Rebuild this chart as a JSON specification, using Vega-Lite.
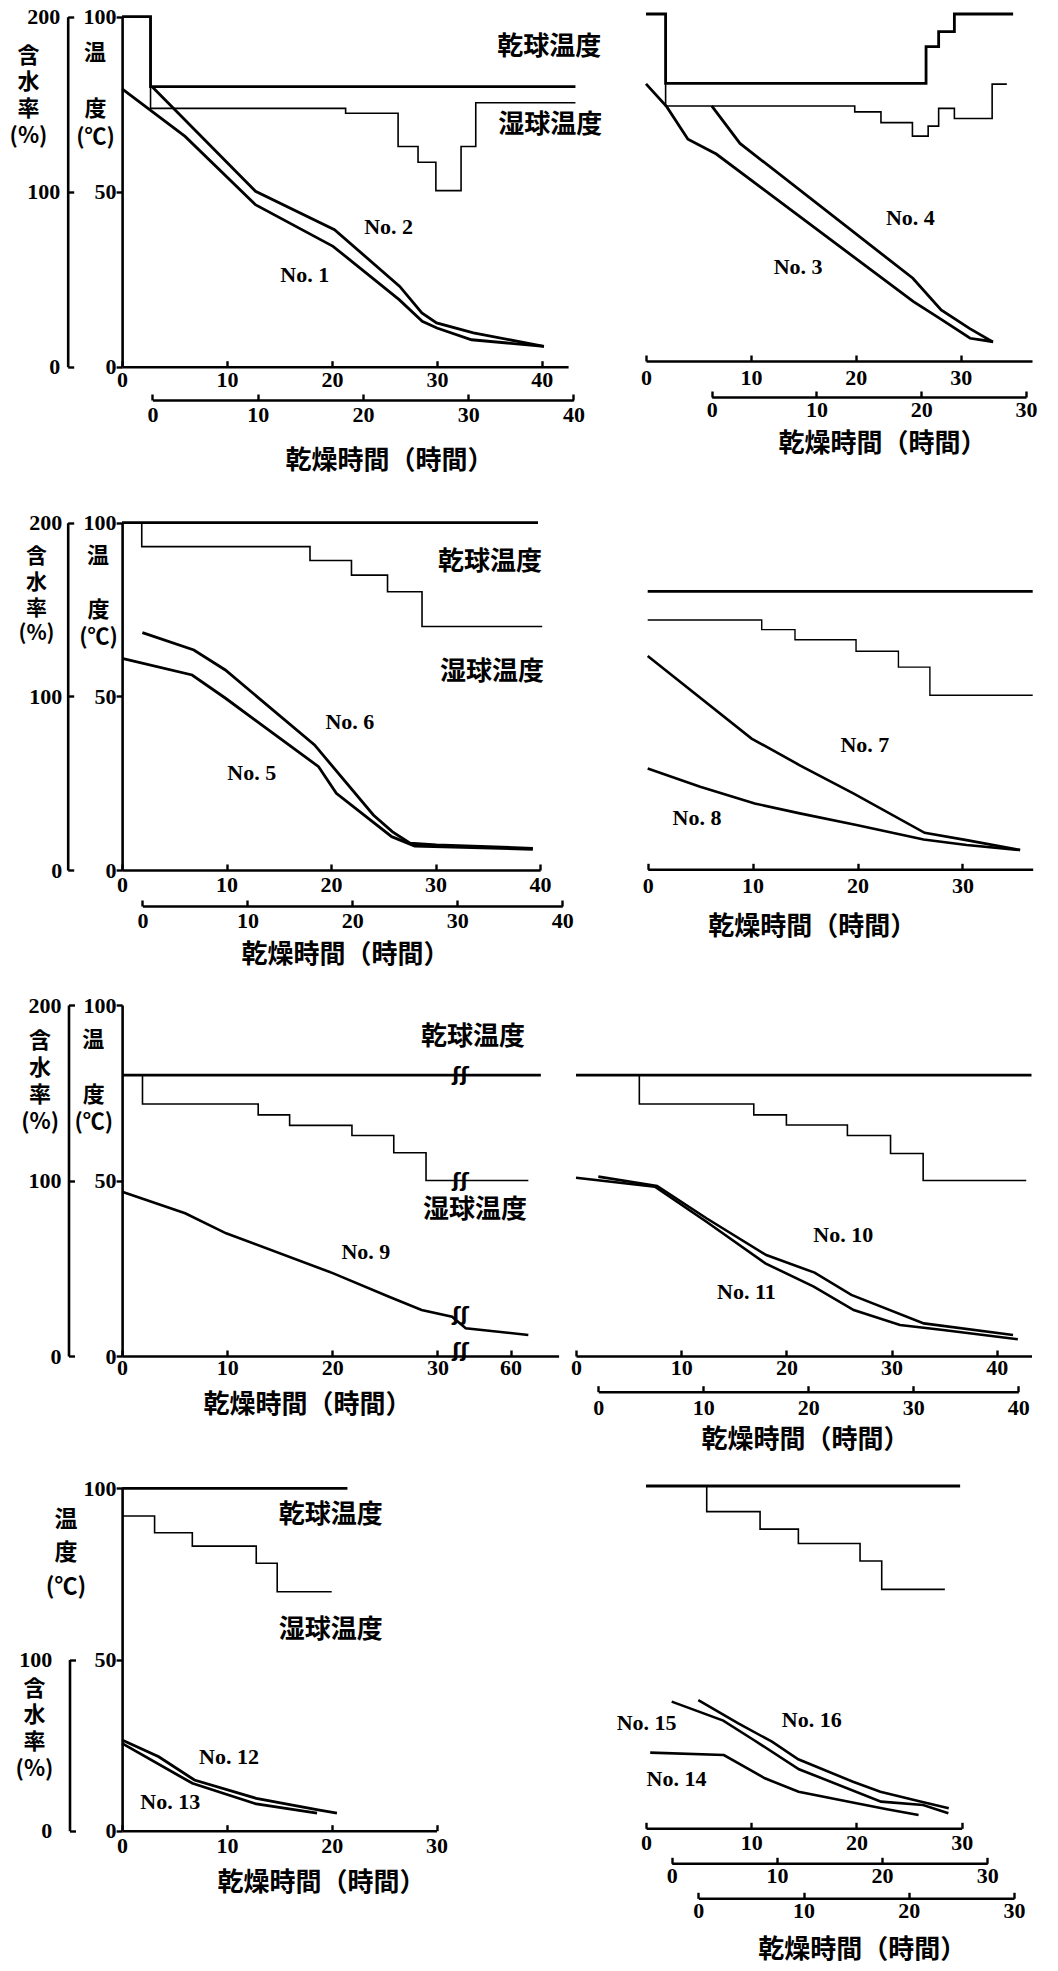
{
"$schema":"https://vega.github.io/schema/vega-lite/v6.json",
"width":1058,"height":1971,"autosize":{"type":"none"},"padding":0,"background":"white",
"config":{"view":{"stroke":null},
"axis":{"domainColor":"#000","domainWidth":2.6,"tickColor":"#000","tickWidth":2.4,"labelColor":"#000","labelFont":"Liberation Serif","labelFontSize":22,"labelFontWeight":"bold","labelFlush":false,"labelOverlap":false,"grid":false,"titleColor":"#000","titleFont":"Noto Sans CJK JP","titleFontSize":26,"titleFontWeight":"bold","titleAlign":"center","titleBaseline":"middle","titleAngle":0,"format":"d"}},
"resolve":{"scale":{"x":"independent","y":"independent"},"axis":{"x":"independent","y":"independent"}},
"layer":[
{"data":{"values":[{"t":0,"T":100},{"t":2.71,"T":73.8},{"t":21.3,"T":72.4},{"t":26.3,"T":62.9},{"t":28.2,"T":58.4},{"t":29.9,"T":50.3},{"t":32.3,"T":62.9},{"t":33.7,"T":75.4},{"t":43.2,"T":75.4}]},
"mark":{"type":"line","interpolate":"step-after","strokeWidth":1.6,"color":"#000"},
"encoding":{"x":{"field":"t","type":"quantitative","scale":{"domain":[0,42.5],"range":[122.1,568.1],"nice":false},"axis":{"orient":"bottom","offset":-1604.3,"values":[0,10,20,30,40],"tickSize":-6,"labelPadding":8.5,"title":null}},
"y":{"field":"T","type":"quantitative","scale":{"domain":[0,100],"range":[366.7,16.7],"nice":false},"axis":{"orient":"left","offset":-122.1,"values":[0,50,100],"tickSize":6,"labelPadding":0,"title":["度","(℃)"],"titleX":-27.1,"titleY":108.6,"titleLineHeight":27.8,"titleAngle":0,"titleAlign":"center","titleBaseline":"middle","titleFontSize":22}}}},
{"data":{"values":[{"t":-2.58,"T":89.6,"label":"温"}]},
"mark":{"type":"text","font":"Noto Sans CJK JP","fontSize":22,"fontWeight":"bold","align":"center","baseline":"middle","color":"#000"},
"encoding":{"x":{"field":"t","type":"quantitative","scale":{"domain":[0,42.5],"range":[122.1,568.1],"nice":false},"axis":null},
"y":{"field":"T","type":"quantitative","scale":{"domain":[0,100],"range":[366.7,16.7],"nice":false},"axis":null},"text":{"field":"label"}}},
{"data":{"values":[{"t":0,"T":100},{"t":2.71,"T":80},{"t":43.2,"T":80}]},
"mark":{"type":"line","interpolate":"step-after","strokeWidth":2.8,"color":"#000"},
"encoding":{"x":{"field":"t","type":"quantitative","scale":{"domain":[0,42.5],"range":[122.1,568.1],"nice":false},"axis":null},
"y":{"field":"T","type":"quantitative","scale":{"domain":[0,100],"range":[366.7,16.7],"nice":false},"axis":null}}},
{"data":{"values":[{"t":0,"M":158.7},{"t":6.0,"M":131.6},{"t":12.7,"M":92.6},{"t":20.1,"M":68.8},{"t":26.4,"M":38.3},{"t":28.6,"M":25.9},{"t":30.0,"M":22.1},{"t":33.3,"M":15.4},{"t":40.2,"M":11.6}]},
"mark":{"type":"line","strokeWidth":2.8,"color":"#000"},
"encoding":{"x":{"field":"t","type":"quantitative","scale":{"domain":[0,42.5],"range":[122.1,568.1],"nice":false},"axis":null},
"y":{"field":"M","type":"quantitative","scale":{"domain":[0,200],"range":[366.7,16.7],"nice":false},"axis":{"orient":"left","offset":-67.7,"values":[0,100,200],"tickSize":-6,"labelPadding":14,"title":["含","水","率","(%)"],"titleX":-39.7,"titleY":55,"titleLineHeight":26.7,"titleAngle":0,"titleAlign":"center","titleBaseline":"middle","titleFontSize":22}}}},
{"data":{"values":[{"t":0,"M":159.8},{"t":9.8,"M":100.2},{"t":17.3,"M":78.3},{"t":23.5,"M":45.9},{"t":25.6,"M":30.7},{"t":27.0,"M":25.0},{"t":30.5,"M":19.3},{"t":37.2,"M":11.6}]},
"mark":{"type":"line","strokeWidth":2.8,"color":"#000"},
"encoding":{"x":{"field":"t","type":"quantitative","scale":{"domain":[0,40],"range":[152.4,573.4],"nice":false},"axis":{"orient":"bottom","offset":-1571,"values":[0,10,20,30,40],"tickSize":-6,"labelPadding":10,"title":"乾燥時間（時間）","titleX":389,"titleY":60.7,"titleAngle":0,"titleAlign":"center","titleBaseline":"middle"}},
"y":{"field":"M","type":"quantitative","scale":{"domain":[0,200],"range":[366.7,16.7],"nice":false},"axis":null}}},
{"data":{"values":[{"t":40.7,"T":91.4,"label":"乾球温度"},{"t":40.8,"T":69.0,"label":"湿球温度"}]},
"mark":{"type":"text","font":"Noto Sans CJK JP","fontSize":26,"fontWeight":"bold","align":"center","baseline":"middle","color":"#000"},
"encoding":{"x":{"field":"t","type":"quantitative","scale":{"domain":[0,42.5],"range":[122.1,568.1],"nice":false},"axis":null},
"y":{"field":"T","type":"quantitative","scale":{"domain":[0,100],"range":[366.7,16.7],"nice":false},"axis":null},"text":{"field":"label"}}},
{"data":{"values":[{"t":25.4,"T":39.9,"label":"No. 2"},{"t":17.4,"T":26.2,"label":"No. 1"}]},
"mark":{"type":"text","font":"Liberation Serif","fontSize":22,"fontWeight":"bold","align":"center","baseline":"middle","color":"#000"},
"encoding":{"x":{"field":"t","type":"quantitative","scale":{"domain":[0,42.5],"range":[122.1,568.1],"nice":false},"axis":null},
"y":{"field":"T","type":"quantitative","scale":{"domain":[0,100],"range":[366.7,16.7],"nice":false},"axis":null},"text":{"field":"label"}}},

{"data":{"values":[{"t":0,"T":100},{"t":1.87,"T":73.5},{"t":19.9,"T":71.8},{"t":22.4,"T":68.7},{"t":25.4,"T":64.8},{"t":26.9,"T":67.7},{"t":27.9,"T":72.8},{"t":29.4,"T":69.9},{"t":33.0,"T":79.8},{"t":34.4,"T":79.8}]},
"mark":{"type":"line","interpolate":"step-after","strokeWidth":1.6,"color":"#000"},
"encoding":{"x":{"field":"t","type":"quantitative","scale":{"domain":[0,36.8],"range":[646,1032],"nice":false},"axis":{"orient":"bottom","offset":-1610,"values":[0,10,20,30],"tickSize":-6,"labelPadding":12.4,"title":null}},
"y":{"field":"T","type":"quantitative","scale":{"domain":[0,100],"range":[361,14],"nice":false},"axis":null}}},
{"data":{"values":[{"t":0,"T":100},{"t":1.87,"T":80},{"t":26.7,"T":90.6},{"t":27.9,"T":94.9},{"t":29.4,"T":100},{"t":35.0,"T":100}]},
"mark":{"type":"line","interpolate":"step-after","strokeWidth":2.8,"color":"#000"},
"encoding":{"x":{"field":"t","type":"quantitative","scale":{"domain":[0,36.8],"range":[646,1032],"nice":false},"axis":null},
"y":{"field":"T","type":"quantitative","scale":{"domain":[0,100],"range":[361,14],"nice":false},"axis":null}}},
{"data":{"values":[{"t":0,"M":159.7},{"t":1.97,"M":146.6},{"t":4.0,"M":127.8},{"t":6.7,"M":119.3},{"t":25.5,"M":34.2},{"t":28.0,"M":24.6},{"t":30.9,"M":13.1},{"t":33.1,"M":11.1}]},
"mark":{"type":"line","strokeWidth":2.8,"color":"#000"},
"encoding":{"x":{"field":"t","type":"quantitative","scale":{"domain":[0,36.8],"range":[646,1032],"nice":false},"axis":null},
"y":{"field":"M","type":"quantitative","scale":{"domain":[0,200],"range":[361,14],"nice":false},"axis":null}}},
{"data":{"values":[{"t":0,"M":147.0},{"t":2.7,"M":125.4},{"t":19.2,"M":47.7},{"t":21.9,"M":29.4},{"t":24.6,"M":18.8},{"t":26.8,"M":11.1}]},
"mark":{"type":"line","strokeWidth":2.8,"color":"#000"},
"encoding":{"x":{"field":"t","type":"quantitative","scale":{"domain":[0,30],"range":[711.7,1026],"nice":false},"axis":{"orient":"bottom","offset":-1574,"values":[0,10,20,30],"tickSize":-6,"labelPadding":8.4,"title":"乾燥時間（時間）","titleX":882,"titleY":46,"titleAngle":0,"titleAlign":"center","titleBaseline":"middle"}},
"y":{"field":"M","type":"quantitative","scale":{"domain":[0,200],"range":[361,14],"nice":false},"axis":null}}},
{"data":{"values":[{"t":25.2,"T":41.1,"label":"No. 4"},{"t":14.5,"T":27.2,"label":"No. 3"}]},
"mark":{"type":"text","font":"Liberation Serif","fontSize":22,"fontWeight":"bold","align":"center","baseline":"middle","color":"#000"},
"encoding":{"x":{"field":"t","type":"quantitative","scale":{"domain":[0,36.8],"range":[646,1032],"nice":false},"axis":null},
"y":{"field":"T","type":"quantitative","scale":{"domain":[0,100],"range":[361,14],"nice":false},"axis":null},"text":{"field":"label"}}},

{"data":{"values":[{"t":0,"T":100},{"t":1.88,"T":93.1},{"t":17.98,"T":89.1},{"t":21.95,"T":84.9},{"t":25.4,"T":80.1},{"t":28.7,"T":70.1},{"t":40.2,"T":70.1}]},
"mark":{"type":"line","interpolate":"step-after","strokeWidth":1.6,"color":"#000"},
"encoding":{"x":{"field":"t","type":"quantitative","scale":{"domain":[0,40],"range":[122.1,540.1],"nice":false},"axis":{"orient":"bottom","offset":-1101,"values":[0,10,20,30,40],"tickSize":-6,"labelPadding":10,"title":null}},
"y":{"field":"T","type":"quantitative","scale":{"domain":[0,100],"range":[870,522.7],"nice":false},"axis":{"orient":"left","offset":-122.1,"values":[0,50,100],"tickSize":6,"labelPadding":0,"title":["度","(℃)"],"titleX":-24,"titleY":609.7,"titleLineHeight":27,"titleAngle":0,"titleAlign":"center","titleBaseline":"middle","titleFontSize":22}}}},
{"data":{"values":[{"t":-2.31,"T":90.5,"label":"温"}]},
"mark":{"type":"text","font":"Noto Sans CJK JP","fontSize":22,"fontWeight":"bold","align":"center","baseline":"middle","color":"#000"},
"encoding":{"x":{"field":"t","type":"quantitative","scale":{"domain":[0,40],"range":[122.1,540.1],"nice":false},"axis":null},
"y":{"field":"T","type":"quantitative","scale":{"domain":[0,100],"range":[870,522.7],"nice":false},"axis":null},"text":{"field":"label"}}},
{"data":{"values":[{"t":0,"T":100},{"t":39.8,"T":100}]},
"mark":{"type":"line","interpolate":"step-after","strokeWidth":2.8,"color":"#000"},
"encoding":{"x":{"field":"t","type":"quantitative","scale":{"domain":[0,40],"range":[122.1,540.1],"nice":false},"axis":null},
"y":{"field":"T","type":"quantitative","scale":{"domain":[0,100],"range":[870,522.7],"nice":false},"axis":null}}},
{"data":{"values":[{"t":0,"M":121.9},{"t":6.7,"M":112.3},{"t":9.9,"M":98.9},{"t":18.8,"M":59.5},{"t":20.5,"M":44.2},{"t":25.8,"M":19.2},{"t":28.0,"M":13.8},{"t":39.3,"M":11.9}]},
"mark":{"type":"line","strokeWidth":2.8,"color":"#000"},
"encoding":{"x":{"field":"t","type":"quantitative","scale":{"domain":[0,40],"range":[122.1,540.1],"nice":false},"axis":null},
"y":{"field":"M","type":"quantitative","scale":{"domain":[0,200],"range":[870,522.7],"nice":false},"axis":{"orient":"left","offset":-67.7,"values":[0,100,200],"tickSize":-6,"labelPadding":12,"title":["含","水","率","(%)"],"titleX":-31.7,"titleY":556.7,"titleLineHeight":25.7,"titleAngle":0,"titleAlign":"center","titleBaseline":"middle","titleFontSize":21}}}},
{"data":{"values":[{"t":0,"M":136.7},{"t":4.9,"M":126.7},{"t":7.9,"M":115.2},{"t":16.4,"M":72.0},{"t":22.0,"M":31.7},{"t":23.8,"M":22.1},{"t":25.5,"M":15.4},{"t":28.0,"M":14.4},{"t":37.2,"M":12.5}]},
"mark":{"type":"line","strokeWidth":2.8,"color":"#000"},
"encoding":{"x":{"field":"t","type":"quantitative","scale":{"domain":[0,40],"range":[142.4,562.3],"nice":false},"axis":{"orient":"bottom","offset":-1065,"values":[0,10,20,30,40],"tickSize":-6,"labelPadding":10.7,"title":"乾燥時間（時間）","titleX":345,"titleY":48,"titleAngle":0,"titleAlign":"center","titleBaseline":"middle"}},
"y":{"field":"M","type":"quantitative","scale":{"domain":[0,200],"range":[870,522.7],"nice":false},"axis":null}}},
{"data":{"values":[{"t":35.2,"T":88.8,"label":"乾球温度"},{"t":35.4,"T":57.1,"label":"湿球温度"}]},
"mark":{"type":"text","font":"Noto Sans CJK JP","fontSize":26,"fontWeight":"bold","align":"center","baseline":"middle","color":"#000"},
"encoding":{"x":{"field":"t","type":"quantitative","scale":{"domain":[0,40],"range":[122.1,540.1],"nice":false},"axis":null},
"y":{"field":"T","type":"quantitative","scale":{"domain":[0,100],"range":[870,522.7],"nice":false},"axis":null},"text":{"field":"label"}}},
{"data":{"values":[{"t":21.8,"T":42.7,"label":"No. 6"},{"t":12.4,"T":27.8,"label":"No. 5"}]},
"mark":{"type":"text","font":"Liberation Serif","fontSize":22,"fontWeight":"bold","align":"center","baseline":"middle","color":"#000"},
"encoding":{"x":{"field":"t","type":"quantitative","scale":{"domain":[0,40],"range":[122.1,540.1],"nice":false},"axis":null},
"y":{"field":"T","type":"quantitative","scale":{"domain":[0,100],"range":[870,522.7],"nice":false},"axis":null},"text":{"field":"label"}}},

{"data":{"values":[{"t":0,"T":71.8},{"t":10.87,"T":69},{"t":14.04,"T":66.1},{"t":19.86,"T":62.8},{"t":23.9,"T":58.2},{"t":26.9,"T":50.1},{"t":36.7,"T":50.1}]},
"mark":{"type":"line","interpolate":"step-after","strokeWidth":1.4,"color":"#000"},
"encoding":{"x":{"field":"t","type":"quantitative","scale":{"domain":[0,36.7],"range":[647.7,1032.7],"nice":false},"axis":{"orient":"bottom","offset":-1101.7,"values":[0,10,20,30],"tickSize":-6,"labelPadding":12.4,"title":"乾燥時間（時間）","titleX":811.7,"titleY":56.7,"titleAngle":0,"titleAlign":"center","titleBaseline":"middle"}},
"y":{"field":"T","type":"quantitative","scale":{"domain":[0,100],"range":[869.3,522],"nice":false},"axis":null}}},
{"data":{"values":[{"t":0,"T":80},{"t":36.7,"T":80}]},
"mark":{"type":"line","interpolate":"step-after","strokeWidth":2.8,"color":"#000"},
"encoding":{"x":{"field":"t","type":"quantitative","scale":{"domain":[0,36.7],"range":[647.7,1032.7],"nice":false},"axis":null},
"y":{"field":"T","type":"quantitative","scale":{"domain":[0,100],"range":[869.3,522],"nice":false},"axis":null}}},
{"data":{"values":[{"t":0,"M":122.8},{"t":9.9,"M":75.3},{"t":14.5,"M":59.9},{"t":19.6,"M":43.7},{"t":26.4,"M":21.0},{"t":30.4,"M":16.8},{"t":35.5,"M":11.1}]},
"mark":{"type":"line","strokeWidth":2.6,"color":"#000"},
"encoding":{"x":{"field":"t","type":"quantitative","scale":{"domain":[0,36.7],"range":[647.7,1032.7],"nice":false},"axis":null},
"y":{"field":"M","type":"quantitative","scale":{"domain":[0,200],"range":[869.3,522],"nice":false},"axis":null}}},
{"data":{"values":[{"t":0,"M":58.0},{"t":5.0,"M":47.5},{"t":10.2,"M":37.9},{"t":14.5,"M":32.2},{"t":19.9,"M":25.5},{"t":26.3,"M":17.2},{"t":30.4,"M":14.0},{"t":35.5,"M":11.1}]},
"mark":{"type":"line","strokeWidth":2.6,"color":"#000"},
"encoding":{"x":{"field":"t","type":"quantitative","scale":{"domain":[0,36.7],"range":[647.7,1032.7],"nice":false},"axis":null},
"y":{"field":"M","type":"quantitative","scale":{"domain":[0,200],"range":[869.3,522],"nice":false},"axis":null}}},
{"data":{"values":[{"t":20.7,"T":35.8,"label":"No. 7"},{"t":4.7,"T":14.7,"label":"No. 8"}]},
"mark":{"type":"text","font":"Liberation Serif","fontSize":22,"fontWeight":"bold","align":"center","baseline":"middle","color":"#000"},
"encoding":{"x":{"field":"t","type":"quantitative","scale":{"domain":[0,36.7],"range":[647.7,1032.7],"nice":false},"axis":null},
"y":{"field":"T","type":"quantitative","scale":{"domain":[0,100],"range":[869.3,522],"nice":false},"axis":null},"text":{"field":"label"}}},

{"data":{"values":[{"t":0,"T":80},{"t":1.94,"T":71.8},{"t":12.95,"T":68.7},{"t":15.94,"T":65.7},{"t":21.87,"T":62.8},{"t":25.85,"T":57.9},{"t":28.92,"T":50},{"t":61.7,"T":50}]},
"mark":{"type":"line","interpolate":"step-after","strokeWidth":1.6,"color":"#000"},
"encoding":{"x":{"field":"t","type":"quantitative","scale":{"domain":[0,32.2,55.2,64.6],"range":[122.1,460.5,460.5,558.6],"nice":false},"axis":{"orient":"bottom","offset":-615,"values":[0,10,20,30,60],"tickSize":-6,"labelPadding":7.4,"title":"乾燥時間（時間）","titleX":307,"titleY":48.3,"titleAngle":0,"titleAlign":"center","titleBaseline":"middle"}},
"y":{"field":"T","type":"quantitative","scale":{"domain":[0,100],"range":[1356,1005],"nice":false},"axis":{"orient":"left","offset":-122.1,"values":[0,50,100],"tickSize":6,"labelPadding":0,"title":["度","(℃)"],"titleX":-28.8,"titleY":1094,"titleLineHeight":27,"titleAngle":0,"titleAlign":"center","titleBaseline":"middle","titleFontSize":22}}}},
{"data":{"values":[{"t":-2.74,"T":90.0,"label":"温"}]},
"mark":{"type":"text","font":"Noto Sans CJK JP","fontSize":22,"fontWeight":"bold","align":"center","baseline":"middle","color":"#000"},
"encoding":{"x":{"field":"t","type":"quantitative","scale":{"domain":[0,32.2,55.2,64.6],"range":[122.1,460.5,460.5,558.6],"nice":false},"axis":null},
"y":{"field":"T","type":"quantitative","scale":{"domain":[0,100],"range":[1356,1005],"nice":false},"axis":null},"text":{"field":"label"}}},
{"data":{"values":[{"t":0,"T":80},{"t":62.9,"T":80}]},
"mark":{"type":"line","interpolate":"step-after","strokeWidth":2.8,"color":"#000"},
"encoding":{"x":{"field":"t","type":"quantitative","scale":{"domain":[0,32.2,55.2,64.6],"range":[122.1,460.5,460.5,558.6],"nice":false},"axis":null},
"y":{"field":"T","type":"quantitative","scale":{"domain":[0,100],"range":[1356,1005],"nice":false},"axis":null}}},
{"data":{"values":[{"t":0,"M":93.6},{"t":6.0,"M":81.3},{"t":9.9,"M":69.9},{"t":20.1,"M":47.1},{"t":25.4,"M":33.8},{"t":28.5,"M":26.2},{"t":31.4,"M":22.4},{"t":55.7,"M":15.8},{"t":61.7,"M":12.0}]},
"mark":{"type":"line","strokeWidth":2.6,"color":"#000"},
"encoding":{"x":{"field":"t","type":"quantitative","scale":{"domain":[0,32.2,55.2,64.6],"range":[122.1,460.5,460.5,558.6],"nice":false},"axis":null},
"y":{"field":"M","type":"quantitative","scale":{"domain":[0,200],"range":[1356,1005],"nice":false},"axis":{"orient":"left","offset":-68.5,"values":[0,100,200],"tickSize":-6,"labelPadding":13.4,"title":["含","水","率","(%)"],"titleX":-28.9,"titleY":1040,"titleLineHeight":27,"titleAngle":0,"titleAlign":"center","titleBaseline":"middle","titleFontSize":22}}}},
{"data":{"values":[{"t":56.4,"T":91.0,"label":"乾球温度"},{"t":56.6,"T":41.6,"label":"湿球温度"}]},
"mark":{"type":"text","font":"Noto Sans CJK JP","fontSize":26,"fontWeight":"bold","align":"center","baseline":"middle","color":"#000"},
"encoding":{"x":{"field":"t","type":"quantitative","scale":{"domain":[0,32.2,55.2,64.6],"range":[122.1,460.5,460.5,558.6],"nice":false},"axis":null},
"y":{"field":"T","type":"quantitative","scale":{"domain":[0,100],"range":[1356,1005],"nice":false},"axis":null},"text":{"field":"label"}}},
{"data":{"values":[{"t":23.2,"T":29.7,"label":"No. 9"}]},
"mark":{"type":"text","font":"Liberation Serif","fontSize":22,"fontWeight":"bold","align":"center","baseline":"middle","color":"#000"},
"encoding":{"x":{"field":"t","type":"quantitative","scale":{"domain":[0,32.2,55.2,64.6],"range":[122.1,460.5,460.5,558.6],"nice":false},"axis":null},
"y":{"field":"T","type":"quantitative","scale":{"domain":[0,100],"range":[1356,1005],"nice":false},"axis":null},"text":{"field":"label"}}},
{"data":{"values":[{"t":32.2,"T":80,"label":"ʃʃ"},{"t":32.2,"T":50,"label":"ʃʃ"},{"t":32.2,"T":11.7,"label":"ʃʃ"},{"t":32.2,"T":1.5,"label":"ʃʃ"}]},
"mark":{"type":"text","font":"DejaVu Sans","fontSize":20,"fontWeight":"bold","align":"center","baseline":"middle","color":"#000"},
"encoding":{"x":{"field":"t","type":"quantitative","scale":{"domain":[0,32.2,55.2,64.6],"range":[122.1,460.5,460.5,558.6],"nice":false},"axis":null},
"y":{"field":"T","type":"quantitative","scale":{"domain":[0,100],"range":[1356,1005],"nice":false},"axis":null},"text":{"field":"label"}}},

{"data":{"values":[{"t":0,"T":80},{"t":6.02,"T":71.8},{"t":16.9,"T":68.7},{"t":20,"T":65.8},{"t":25.8,"T":62.8},{"t":29.9,"T":57.7},{"t":33,"T":50},{"t":42.8,"T":50}]},
"mark":{"type":"line","interpolate":"step-after","strokeWidth":1.6,"color":"#000"},
"encoding":{"x":{"field":"t","type":"quantitative","scale":{"domain":[0,43.3],"range":[576,1031.5],"nice":false},"axis":{"orient":"bottom","offset":-615,"values":[0,10,20,30,40],"tickSize":-6,"labelPadding":7.4,"title":null}},
"y":{"field":"T","type":"quantitative","scale":{"domain":[0,100],"range":[1356,1005],"nice":false},"axis":null}}},
{"data":{"values":[{"t":0,"T":80},{"t":43.3,"T":80}]},
"mark":{"type":"line","interpolate":"step-after","strokeWidth":2.8,"color":"#000"},
"encoding":{"x":{"field":"t","type":"quantitative","scale":{"domain":[0,43.3],"range":[576,1031.5],"nice":false},"axis":null},
"y":{"field":"T","type":"quantitative","scale":{"domain":[0,100],"range":[1356,1005],"nice":false},"axis":null}}},
{"data":{"values":[{"t":0,"M":101.6},{"t":7.5,"M":96.5},{"t":12.4,"M":76.5},{"t":18.0,"M":52.8},{"t":22.6,"M":39.5},{"t":26.4,"M":26.2},{"t":30.8,"M":17.7},{"t":34.9,"M":14.8},{"t":42.0,"M":9.5}]},
"mark":{"type":"line","strokeWidth":2.6,"color":"#000"},
"encoding":{"x":{"field":"t","type":"quantitative","scale":{"domain":[0,43.3],"range":[576,1031.5],"nice":false},"axis":null},
"y":{"field":"M","type":"quantitative","scale":{"domain":[0,200],"range":[1356,1005],"nice":false},"axis":null}}},
{"data":{"values":[{"t":0,"M":102.2},{"t":5.6,"M":96.9},{"t":10.3,"M":78.5},{"t":16.0,"M":57.5},{"t":20.6,"M":47.5},{"t":24.1,"M":34.8},{"t":31.0,"M":18.6},{"t":39.5,"M":12.0}]},
"mark":{"type":"line","strokeWidth":2.6,"color":"#000"},
"encoding":{"x":{"field":"t","type":"quantitative","scale":{"domain":[0,40],"range":[598.3,1018.3],"nice":false},"axis":{"orient":"bottom","offset":-579.3,"values":[0,10,20,30,40],"tickSize":-6,"labelPadding":11.7,"title":"乾燥時間（時間）","titleX":805,"titleY":48,"titleAngle":0,"titleAlign":"center","titleBaseline":"middle"}},
"y":{"field":"M","type":"quantitative","scale":{"domain":[0,200],"range":[1356,1005],"nice":false},"axis":null}}},
{"data":{"values":[{"t":25.4,"T":34.5,"label":"No. 10"},{"t":16.2,"T":18.3,"label":"No. 11"}]},
"mark":{"type":"text","font":"Liberation Serif","fontSize":22,"fontWeight":"bold","align":"center","baseline":"middle","color":"#000"},
"encoding":{"x":{"field":"t","type":"quantitative","scale":{"domain":[0,43.3],"range":[576,1031.5],"nice":false},"axis":null},
"y":{"field":"T","type":"quantitative","scale":{"domain":[0,100],"range":[1356,1005],"nice":false},"axis":null},"text":{"field":"label"}}},

{"data":{"values":[{"t":0,"T":91.9},{"t":3.1,"T":87},{"t":6.7,"T":83.1},{"t":12.8,"T":78.1},{"t":14.8,"T":69.8},{"t":20.0,"T":69.8}]},
"mark":{"type":"line","interpolate":"step-after","strokeWidth":1.6,"color":"#000"},
"encoding":{"x":{"field":"t","type":"quantitative","scale":{"domain":[0,30],"range":[122.1,436.5],"nice":false},"axis":{"orient":"bottom","offset":-140.3,"values":[0,10,20,30],"tickSize":-6,"labelPadding":11,"title":"乾燥時間（時間）","titleX":321,"titleY":52,"titleAngle":0,"titleAlign":"center","titleBaseline":"middle"}},
"y":{"field":"T","type":"quantitative","scale":{"domain":[0,100],"range":[1830.7,1488.3],"nice":false},"axis":{"orient":"left","offset":-122.1,"values":[0,50,100],"tickSize":6,"labelPadding":0,"title":["温","度","(℃)"],"titleX":-56.6,"titleY":1519,"titleLineHeight":33.8,"titleAngle":0,"titleAlign":"center","titleBaseline":"middle","titleFontSize":23}}}},
{"data":{"values":[{"t":0,"T":100},{"t":21.5,"T":100}]},
"mark":{"type":"line","interpolate":"step-after","strokeWidth":2.8,"color":"#000"},
"encoding":{"x":{"field":"t","type":"quantitative","scale":{"domain":[0,30],"range":[122.1,436.5],"nice":false},"axis":null},
"y":{"field":"T","type":"quantitative","scale":{"domain":[0,100],"range":[1830.7,1488.3],"nice":false},"axis":null}}},
{"data":{"values":[{"t":0,"M":53.0},{"t":3.5,"M":43.2},{"t":6.9,"M":29.6},{"t":12.8,"M":18.9},{"t":18.7,"M":12.1},{"t":20.5,"M":10.2}]},
"mark":{"type":"line","strokeWidth":2.8,"color":"#000"},
"encoding":{"x":{"field":"t","type":"quantitative","scale":{"domain":[0,30],"range":[122.1,436.5],"nice":false},"axis":null},
"y":{"field":"M","type":"quantitative","scale":{"domain":[0,100],"range":[1830.7,1659.5],"nice":false},"axis":{"orient":"left","offset":-69.5,"values":[0,100],"tickSize":-6,"labelPadding":23.7,"title":["含","水","率","(%)"],"titleX":-35.5,"titleY":1688,"titleLineHeight":26.7,"titleAngle":0,"titleAlign":"center","titleBaseline":"middle","titleFontSize":22}}}},
{"data":{"values":[{"t":0,"M":51.0},{"t":6.7,"M":27.7},{"t":12.8,"M":15.6},{"t":18.6,"M":10.2}]},
"mark":{"type":"line","strokeWidth":2.8,"color":"#000"},
"encoding":{"x":{"field":"t","type":"quantitative","scale":{"domain":[0,30],"range":[122.1,436.5],"nice":false},"axis":null},
"y":{"field":"M","type":"quantitative","scale":{"domain":[0,100],"range":[1830.7,1659.5],"nice":false},"axis":null}}},
{"data":{"values":[{"t":19.9,"T":92.2,"label":"乾球温度"},{"t":19.9,"T":58.6,"label":"湿球温度"}]},
"mark":{"type":"text","font":"Noto Sans CJK JP","fontSize":26,"fontWeight":"bold","align":"center","baseline":"middle","color":"#000"},
"encoding":{"x":{"field":"t","type":"quantitative","scale":{"domain":[0,30],"range":[122.1,436.5],"nice":false},"axis":null},
"y":{"field":"T","type":"quantitative","scale":{"domain":[0,100],"range":[1830.7,1488.3],"nice":false},"axis":null},"text":{"field":"label"}}},
{"data":{"values":[{"t":10.2,"T":21.6,"label":"No. 12"},{"t":4.6,"T":8.5,"label":"No. 13"}]},
"mark":{"type":"text","font":"Liberation Serif","fontSize":22,"fontWeight":"bold","align":"center","baseline":"middle","color":"#000"},
"encoding":{"x":{"field":"t","type":"quantitative","scale":{"domain":[0,30],"range":[122.1,436.5],"nice":false},"axis":null},
"y":{"field":"T","type":"quantitative","scale":{"domain":[0,100],"range":[1830.7,1488.3],"nice":false},"axis":null},"text":{"field":"label"}}},

{"data":{"values":[{"t":0,"T":100},{"t":5.77,"T":92.5},{"t":10.84,"T":87.4},{"t":14.48,"T":83.2},{"t":20.34,"T":78.1},{"t":22.4,"T":69.8},{"t":28.4,"T":69.8}]},
"mark":{"type":"line","interpolate":"step-after","strokeWidth":1.6,"color":"#000"},
"encoding":{"x":{"field":"t","type":"quantitative","scale":{"domain":[0,30],"range":[646,961.7],"nice":false},"axis":{"orient":"bottom","offset":-142.7,"values":[0,10,20,30],"tickSize":-6,"labelPadding":10,"title":null}},
"y":{"field":"T","type":"quantitative","scale":{"domain":[0,100],"range":[1828.3,1486],"nice":false},"axis":null}}},
{"data":{"values":[{"t":0,"T":100},{"t":29.85,"T":100}]},
"mark":{"type":"line","interpolate":"step-after","strokeWidth":2.8,"color":"#000"},
"encoding":{"x":{"field":"t","type":"quantitative","scale":{"domain":[0,30],"range":[646,961.7],"nice":false},"axis":null},
"y":{"field":"T","type":"quantitative","scale":{"domain":[0,100],"range":[1828.3,1486],"nice":false},"axis":null}}},
{"data":{"values":[{"t":0.4,"M":44.2},{"t":7.4,"M":42.8},{"t":11.3,"M":29.2},{"t":14.5,"M":21.4},{"t":20.0,"M":14.6},{"t":22.9,"M":11.1},{"t":25.9,"M":7.8}]},
"mark":{"type":"line","strokeWidth":2.6,"color":"#000"},
"encoding":{"x":{"field":"t","type":"quantitative","scale":{"domain":[0,30],"range":[646,961.7],"nice":false},"axis":null},
"y":{"field":"M","type":"quantitative","scale":{"domain":[0,200],"range":[1828.3,1486],"nice":false},"axis":null}}},
{"data":{"values":[{"t":0,"M":74.0},{"t":4.9,"M":62.9},{"t":7.8,"M":51.6},{"t":12.1,"M":34.5},{"t":19.9,"M":15.6},{"t":23.9,"M":13.6},{"t":26.3,"M":8.8}]},
"mark":{"type":"line","strokeWidth":2.6,"color":"#000"},
"encoding":{"x":{"field":"t","type":"quantitative","scale":{"domain":[0,30],"range":[671.7,987.3],"nice":false},"axis":{"orient":"bottom","offset":-107.7,"values":[0,10,20,30],"tickSize":-6,"labelPadding":8.4,"title":null}},
"y":{"field":"M","type":"quantitative","scale":{"domain":[0,200],"range":[1828.3,1486],"nice":false},"axis":null}}},
{"data":{"values":[{"t":0,"M":74.9},{"t":3.8,"M":61.3},{"t":7.0,"M":50.6},{"t":9.5,"M":40.3},{"t":14.7,"M":27.2},{"t":17.3,"M":21.4},{"t":21.1,"M":15.6},{"t":23.8,"M":11.7}]},
"mark":{"type":"line","strokeWidth":2.6,"color":"#000"},
"encoding":{"x":{"field":"t","type":"quantitative","scale":{"domain":[0,30],"range":[698.3,1014],"nice":false},"axis":{"orient":"bottom","offset":-72.7,"values":[0,10,20,30],"tickSize":-6,"labelPadding":8.4,"title":"乾燥時間（時間）","titleX":861.7,"titleY":51,"titleAngle":0,"titleAlign":"center","titleBaseline":"middle"}},
"y":{"field":"M","type":"quantitative","scale":{"domain":[0,200],"range":[1828.3,1486],"nice":false},"axis":null}}},
{"data":{"values":[{"t":0.06,"T":30.8,"label":"No. 15"},{"t":15.75,"T":31.6,"label":"No. 16"},{"t":2.9,"T":14.3,"label":"No. 14"}]},
"mark":{"type":"text","font":"Liberation Serif","fontSize":22,"fontWeight":"bold","align":"center","baseline":"middle","color":"#000"},
"encoding":{"x":{"field":"t","type":"quantitative","scale":{"domain":[0,30],"range":[646,961.7],"nice":false},"axis":null},
"y":{"field":"T","type":"quantitative","scale":{"domain":[0,100],"range":[1828.3,1486],"nice":false},"axis":null},"text":{"field":"label"}}}
]
}
